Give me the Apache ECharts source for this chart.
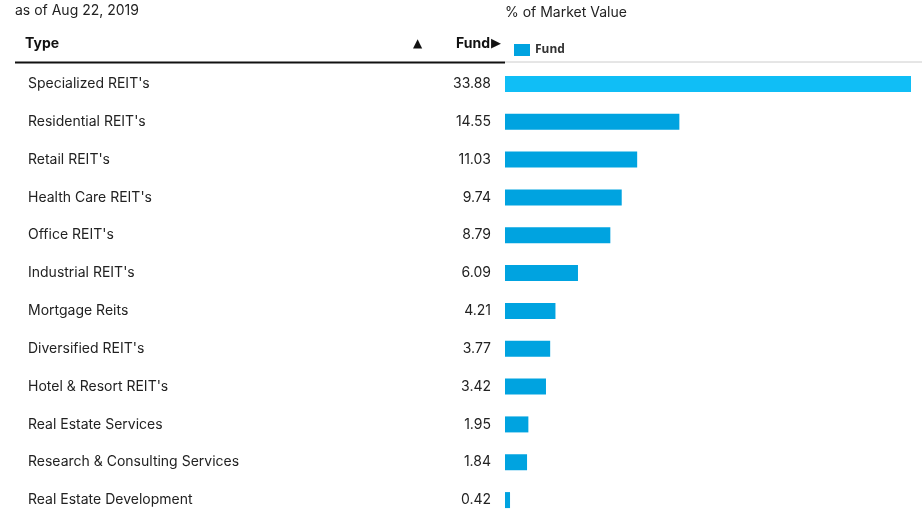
<!DOCTYPE html>
<html><head><meta charset="utf-8">
<script src="https://cdn.jsdelivr.net/npm/echarts@6/dist/echarts.min.js"></script>
<style>html,body{margin:0;padding:0;background:#fff}#c{width:922px;height:519px}</style>
</head><body><div id="c"></div>
<script>
const categories = ["Specialized REIT's","Residential REIT's","Retail REIT's","Health Care REIT's","Office REIT's","Industrial REIT's","Mortgage Reits","Diversified REIT's","Hotel & Resort REIT's","Real Estate Services","Research & Consulting Services","Real Estate Development"];
const fundValues = [33.88,14.55,11.03,9.74,8.79,6.09,4.21,3.77,3.42,1.95,1.84,0.42];
const asOfText = "as of Aug 22, 2019";
const chartTitle = "% of Market Value";
const seriesName = "Fund";

const FONT = "Inter";
const chart = echarts.init(document.getElementById('c'));
chart.setOption({
  animation:false,
  textStyle:{fontFamily:FONT},
  grid:{left:505, right:11, top:65, height:456, containLabel:false},
  legend:{show:true, left:509, top:39, icon:'rect', itemWidth:16, itemHeight:12, itemGap:5,
    data:[seriesName], textStyle:{fontFamily:"Noto Sans", fontWeight:'bold', fontSize:12, color:'#333'}},
  xAxis:{type:'value', min:0, max:33.88, show:false},
  yAxis:{type:'category', inverse:true, data:categories,
    axisLine:{show:false}, axisTick:{show:false}, splitLine:{show:false},
    axisLabel:{align:'left', margin:477, fontSize:14, color:'#222', fontFamily:FONT}},
  series:[{name:seriesName, type:'bar', barWidth:16,
    data:fundValues.map((v,i)=> i===0 ? {value:v, itemStyle:{color:'#10bef6'}} : v),
    itemStyle:{color:'#00a3e0'},
    label:{show:true, position:'left', distance:14, fontSize:14, color:'#222', fontFamily:FONT,
      formatter:p=>p.value.toFixed(2)}}],
  graphic:[
    {type:'text', left:15, top:4, style:{text:asOfText, fontSize:14, fill:'#222', fontFamily:FONT}},
    {type:'text', left:505, top:6, style:{text:chartTitle, fontSize:14, fill:'#222', fontFamily:FONT}},
    {type:'text', left:25, top:37, style:{text:'Type', fontSize:14, fontWeight:'bold', fill:'#111', fontFamily:FONT}},
    {type:'text', left:413, top:38, style:{text:'▲', fontSize:12, fill:'#111', fontFamily:"DejaVu Sans"}},
    {type:'text', right:432, top:37, style:{text:'Fund', fontSize:14, fontWeight:'bold', fill:'#111', fontFamily:FONT}},
    {type:'text', left:491, top:37, style:{text:'▶', fontSize:13, fill:'#111', fontFamily:"DejaVu Sans"}},
    {type:'line', shape:{x1:15,y1:62.5,x2:505,y2:62.5}, style:{stroke:'#111', lineWidth:2}},
    {type:'line', shape:{x1:505,y1:62,x2:922,y2:62}, style:{stroke:'#ccc', lineWidth:1}}
  ]
});
</script></body></html>
